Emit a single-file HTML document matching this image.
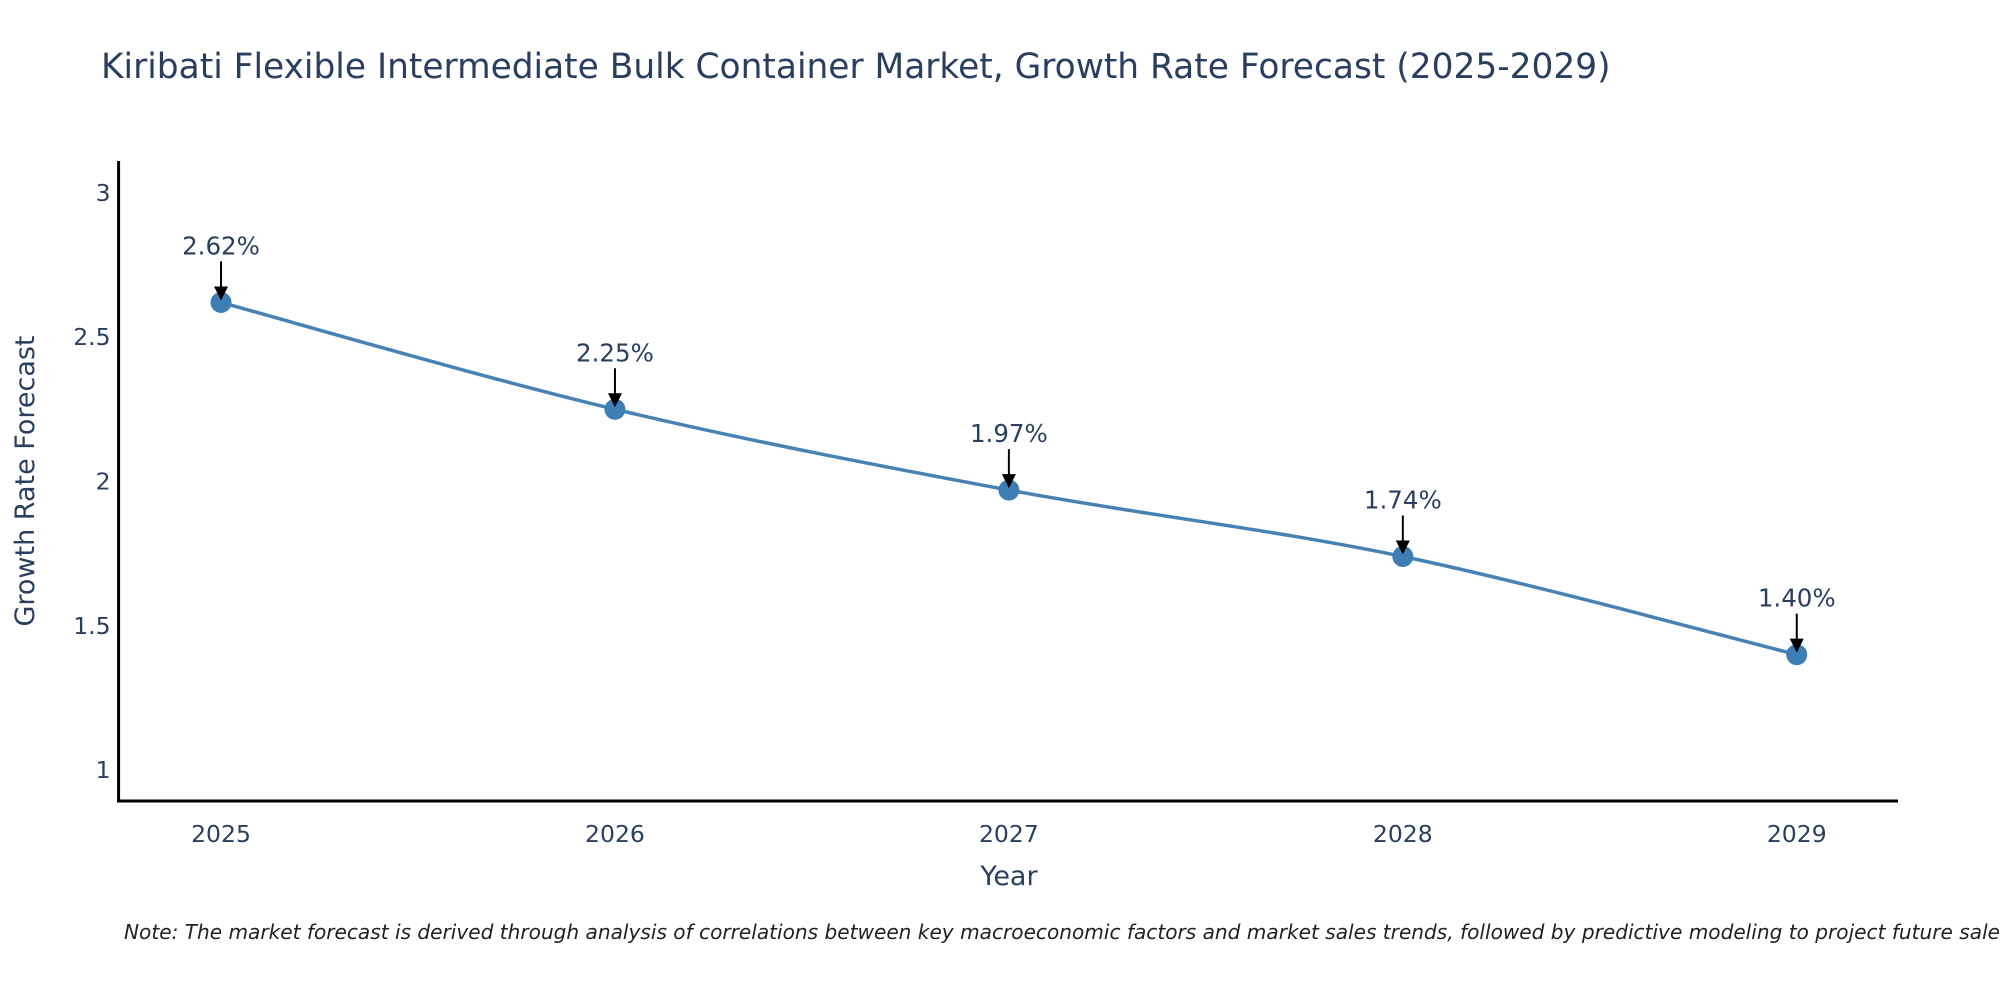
<!DOCTYPE html>
<html><head><meta charset="utf-8"><style>
body{margin:0;background:#fff;}
svg text{font-family:"DejaVu Sans","Liberation Sans",sans-serif;}
</style></head><body>
<svg id="chart" width="2000" height="1000" xmlns="http://www.w3.org/2000/svg">
<rect width="2000" height="1000" fill="#fff"/>
<text x="101" y="78" font-size="34.4" fill="#2a3f5f">Kiribati Flexible Intermediate Bulk Container Market, Growth Rate Forecast (2025-2029)</text>
<g id="plot"></g>
<text x="1009" y="885" font-size="27" fill="#2a3f5f" text-anchor="middle">Year</text>
<text transform="translate(34,481) rotate(-90)" font-size="27" fill="#2a3f5f" text-anchor="middle">Growth Rate Forecast</text>
<text x="124" y="939" font-size="20.1" font-style="italic" fill="#222">Note: The market forecast is derived through analysis of correlations between key macroeconomic factors and market sales trends, followed by predictive modeling to project future sales.</text>
</svg>
<script>
const years = [2025, 2026, 2027, 2028, 2029];
const growth = [2.62, 2.25, 1.97, 1.74, 1.40];
const labels = ["2.62%", "2.25%", "1.97%", "1.74%", "1.40%"];
const yTicks = [1, 1.5, 2, 2.5, 3];
const yTickLabels = ["1", "1.5", "2", "2.5", "3"];

const NS = "http://www.w3.org/2000/svg";
const L = 118.6, R = 1898, T = 161, B = 801;
const xMin = 2024.74, xMax = 2029.257, yMin = 0.893, yMax = 3.11;
const xs = v => L + (v - xMin) / (xMax - xMin) * (R - L);
const ys = v => B - (v - yMin) / (yMax - yMin) * (B - T);
const g = document.getElementById('plot');
function mk(tag, attrs, parent) {
  const e = document.createElementNS(NS, tag);
  for (const k in attrs) e.setAttribute(k, attrs[k]);
  (parent || g).appendChild(e);
  return e;
}
let ax = mk('line', {x1: L, y1: T, x2: L, y2: B + 1.5, stroke: '#000', 'stroke-width': 3});


ax = mk('line', {x1: L - 1.5, y1: B, x2: R, y2: B, stroke: '#000', 'stroke-width': 3});


yTicks.forEach((v, i) => {
  const t = mk('text', {x: L - 8, y: ys(v) + 8, 'font-size': 23.5, fill: '#2a3f5f', 'text-anchor': 'end'});
  t.textContent = yTickLabels[i];
  
  
});
years.forEach(v => {
  const t = mk('text', {x: xs(v), y: B + 41, 'font-size': 23.5, fill: '#2a3f5f', 'text-anchor': 'middle'});
  t.textContent = String(v);
  
  
});
const pts = years.map((y, i) => [xs(y), ys(growth[i])]);
let d = 'M' + pts[0][0] + ',' + pts[0][1];
for (let i = 0; i < pts.length - 1; i++) {
  const p0 = pts[Math.max(0, i - 1)], p1 = pts[i], p2 = pts[i + 1], p3 = pts[Math.min(pts.length - 1, i + 2)];
  const s = 0.5 / 3;
  const c1 = [p1[0] + (p2[0] - p0[0]) * s, p1[1] + (p2[1] - p0[1]) * s];
  const c2 = [p2[0] - (p3[0] - p1[0]) * s, p2[1] - (p3[1] - p1[1]) * s];
  d += ' C' + c1 + ' ' + c2 + ' ' + p2;
}
const line = mk('path', {d: d, fill: 'none', stroke: '#4682b4', 'stroke-width': 3.5});


pts.forEach((p, i) => {
  const c = mk('circle', {cx: p[0], cy: p[1], r: 10.5, fill: '#3d7fb5'});
  
  
  const a = mk('line', {x1: p[0], y1: p[1] - 41, x2: p[0], y2: p[1] - 14, stroke: '#000', 'stroke-width': 2});
  
  
  const h = mk('polygon', {points: (p[0] - 7) + ',' + (p[1] - 16) + ' ' + (p[0] + 7) + ',' + (p[1] - 16) + ' ' + p[0] + ',' + (p[1] - 2), fill: '#000'});
  
  
  const t = mk('text', {x: p[0], y: p[1] - 48, 'font-size': 24.5, fill: '#2a3f5f', 'text-anchor': 'middle'});
  t.textContent = labels[i];
  
  
});
</script>
</body></html>
